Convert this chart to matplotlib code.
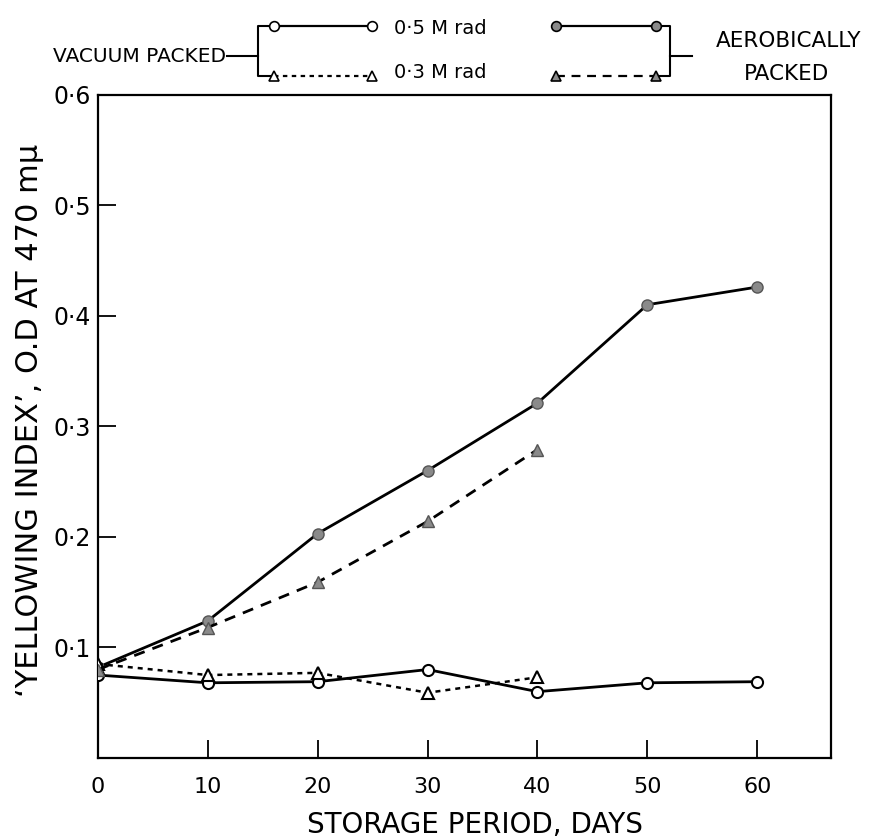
import matplotlib.pyplot as plt
from matplotlib.lines import Line2D

# storage days
days = [0, 10, 20, 30, 40, 50, 60]
days_03 = [0, 10, 20, 30, 40]

# 'yellowing index', O.D at 470 m-mu
vac_05 = [0.075, 0.068, 0.069, 0.080, 0.060, 0.068, 0.069]
aer_05 = [0.082, 0.124, 0.203, 0.260, 0.321, 0.410, 0.426]
vac_03 = [0.085, 0.075, 0.077, 0.059, 0.073]
aer_03 = [0.080, 0.118, 0.159, 0.214, 0.279]

x_ticks = [0, 10, 20, 30, 40, 50, 60]
x_labels = ["0", "10", "20", "30", "40", "50", "60"]
y_ticks = [0.1, 0.2, 0.3, 0.4, 0.5, 0.6]
y_labels = ["0·1", "0·2", "0·3", "0·4", "0·5", "0·6"]

grey = "#8a8a8a"

fig = plt.figure(figsize=(8.82, 8.38), dpi=100)
ax = fig.add_axes([0.111, 0.0955, 0.831, 0.7915])

ax.plot(days, vac_05, color="black", lw=2, marker="o", ms=8,
        mfc="white", mec="black", mew=1.5, zorder=3)
ax.plot(days, aer_05, color="black", lw=2, marker="o", ms=8,
        mfc=grey, mec="#555555", mew=1, zorder=3)
ax.plot(days_03, vac_03, color="black", lw=1.8, ls=(0, (2, 2)), marker="^", ms=9,
        mfc="white", mec="black", mew=1.5, zorder=3)
ax.plot(days_03, aer_03, color="black", lw=2, ls=(0, (4, 3)), marker="^", ms=9,
        mfc=grey, mec="#555555", mew=1, zorder=3)

ax.set_xlim(0, 66.7)
ax.set_ylim(0, 0.6)
ax.set_xticks(x_ticks)
ax.set_xticklabels(x_labels, fontsize=16)
ax.set_yticks(y_ticks)
ax.set_yticklabels(y_labels, fontsize=17)
ax.tick_params(direction="in", length=13, width=1.3)
ax.tick_params(axis="x", pad=14)
ax.tick_params(axis="y", pad=5)
for s in ax.spines.values():
    s.set_linewidth(1.6)


def fx(px):
    return px / 882


def fy(py):
    return 1 - py / 838


# axis titles placed by hand so they sit where the reference has them
fig.text(fx(475), fy(825), "STORAGE PERIOD, DAYS", fontsize=20,
         ha="center", va="center")
fig.text(fx(30), fy(420), "‘YELLOWING INDEX’, O.D AT 470 mμ", fontsize=22,
         rotation=90, ha="center", va="center")

# bracket style legend at the top
fig.text(fx(53), fy(56), "VACUUM PACKED", fontsize=14.5, va="center", ha="left")
fig.text(fx(789), fy(41), "AEROBICALLY", fontsize=15.5, va="center", ha="center")
fig.text(fx(787), fy(74), "PACKED", fontsize=15.5, va="center", ha="center")
fig.text(fx(440), fy(28), "0·5 M rad", fontsize=14, va="center", ha="center")
fig.text(fx(440), fy(73), "0·3 M rad", fontsize=14, va="center", ha="center")

brackets = [
    ([fx(227), fx(258)], [fy(56), fy(56)]),
    ([fx(272), fx(258), fx(258), fx(272)], [fy(26), fy(26), fy(76), fy(76)]),
    ([fx(658), fx(670), fx(670), fx(658)], [fy(26), fy(26), fy(76), fy(76)]),
    ([fx(670), fx(692)], [fy(56), fy(56)]),
]
for xs, ys in brackets:
    fig.add_artist(Line2D(xs, ys, color="black", lw=1.5,
                          transform=fig.transFigure))

sample = [
    (fx(274), fx(372), fy(26), "-", "o", "white"),
    (fx(556), fx(656), fy(26), "-", "o", grey),
    (fx(274), fx(372), fy(76), (0, (2, 2)), "^", "white"),
    (fx(556), fx(656), fy(76), (0, (4, 3)), "^", grey),
]
for x0, x1, yy, ls, m, fc in sample:
    fig.add_artist(Line2D([x0, x1], [yy, yy], color="black", lw=1.6, ls=ls,
                          marker=m, ms=7, mfc=fc, mec="black", mew=1.2,
                          transform=fig.transFigure))

fig.savefig("out.png", dpi=100)
